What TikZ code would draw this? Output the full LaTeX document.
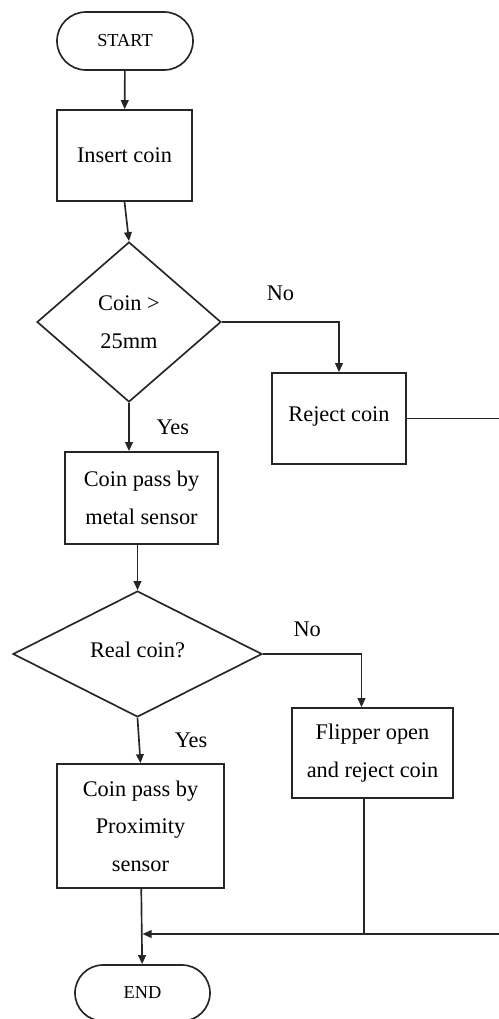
\documentclass[tikz,border=0pt]{standalone}
\usepackage{fontspec}
\setmainfont{Liberation Serif}
\usepackage{tikz}
\usetikzlibrary{positioning}
\usetikzlibrary{shapes.geometric}
\usetikzlibrary{arrows.meta}
\usetikzlibrary{calc}
\tikzset{
  % Start and end of the flow
  term/.style={
    draw=black!85, fill=white, rectangle, rounded corners=#1, align=center,
    font=\fontsize{11}{13}\selectfont, inner sep=2pt,
    minimum width=81pt, minimum height=2*#1},
  % A processing step
  procbox/.style={
    draw=black!85, fill=white, rectangle, align=center,
    inner sep=3pt, minimum width=#1},
  % A decision
  decide/.style={
    draw=black!85, fill=white, diamond, align=center, inner sep=0pt},
  % Connectors
  flow/.style={-{Triangle[length=5.4pt, width=4.6pt]}, draw=black!85},
  link/.style={draw=black!85},
  lbl/.style={inner sep=1.5pt},
}

\begin{document}
\begin{tikzpicture}[x=0.6pt, y=-0.6pt, line width=1pt,
    font=\fontsize{13.4}{22.5}\selectfont]

  \useasboundingbox (0,0) rectangle (498,1019);

  \node[term=17.4pt, minimum width=81.6pt] (start) at (125,41) {START};
  \node[procbox=81pt, minimum height=54.6pt] (insert) at (124.5,155.5) {Insert coin};
  \node[decide, minimum width=110.4pt, minimum height=96pt] (size) at (129,322)
       {Coin >\\25mm};
  \node[procbox=80.4pt, minimum height=54.6pt] (reject) at (339,418.5)
       {\raisebox{4.8pt}{Reject coin}};
  \node[procbox=91.8pt, minimum height=55.2pt] (metal) at (141.5,498)
       {Coin pass by\\metal sensor};
  \node[decide, minimum width=149.4pt, minimum height=75.6pt] (real) at (137.5,654)
       {\raisebox{5pt}{Real coin?}};
  \node[procbox=96.6pt, minimum height=54pt] (flipper) at (372.5,753)
       {Flipper open\\and reject coin};
  \node[procbox=100.2pt, minimum height=74.4pt] (prox) at (140.5,826)
       {Coin pass by\\Proximity\\sensor};
  \node[term=16.8pt] (end) at (142.5,993) {END};

  \coordinate (rimtop) at (506,418.5);
  \coordinate (rimbot) at (506,934);
  \coordinate (join) at (142.5,934);

  \draw[flow] (start) -- (insert);
  \draw[flow] (insert.south) -- (size.north);
  \draw[flow] (size.south) -- (size.south |- metal.north)
       node[lbl, midway, right=14.5pt]{Yes};
  \draw[flow] (size.east) -- (size.east -| reject.north)
       node[lbl, midway, above=11pt]{No} -- (reject.north);
  \draw[flow] (real.north |- metal.south) -- (real.north);
  \draw[flow] (real.south) -- (prox.north)
       node[lbl, midway, right=19.5pt]{Yes};
  \draw[flow] (real.east) -- ([xshift=-6.6pt]real.east -| flipper.north)
       node[lbl, pos=0.45, above=8.5pt]{No} -- ([xshift=-6.6pt]flipper.north);
  \draw[flow] (prox) -- (end);
  \draw[link] (reject.east) -- (rimtop) -- (rimbot);
  \draw[flow] (rimbot) -- (join);
  \draw[link] ([xshift=-5pt]flipper.south) -- ([xshift=-5pt]flipper.south |- join);

\end{tikzpicture}
\end{document}
